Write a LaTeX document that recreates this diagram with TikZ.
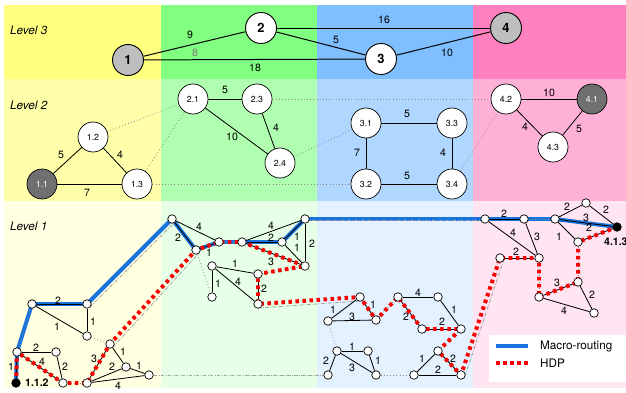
\documentclass[tikz,border=0pt]{standalone}
\usepackage{fontspec}
\setmainfont{TeX Gyre Heros}
\usetikzlibrary{backgrounds}

\definecolor{yellowL3}{RGB}{255,255,128}
\definecolor{greenL3}{RGB}{128,255,128}
\definecolor{blueL3}{RGB}{128,191,255}
\definecolor{pinkL3}{RGB}{255,128,191}
\definecolor{yellowL2}{RGB}{255,255,170}
\definecolor{greenL2}{RGB}{176,255,176}
\definecolor{blueL2}{RGB}{176,215,255}
\definecolor{pinkL2}{RGB}{255,176,215}
\definecolor{yellowL1}{RGB}{255,255,225}
\definecolor{greenL1}{RGB}{230,255,230}
\definecolor{blueL1}{RGB}{228,241,255}
\definecolor{pinkL1}{RGB}{255,228,241}
\definecolor{hubgray}{RGB}{190,190,190}
\definecolor{darkhub}{RGB}{112,112,112}
\definecolor{macroblue}{RGB}{25,115,220}
\definecolor{hdpred}{RGB}{250,0,0}
\definecolor{linkgray}{RGB}{140,140,140}

\begin{document}
\begin{tikzpicture}[x=0.03cm,y=-0.03cm,
    big/.style={circle,draw,fill=white,line width=0.8pt,minimum size=0.93cm,inner sep=0pt,font=\fontsize{11}{12}\selectfont\bfseries},
    mid/.style={circle,draw,fill=white,line width=0.6pt,minimum size=0.9cm,inner sep=0pt,font=\fontsize{7.5}{9}\selectfont},
    dot/.style={circle,draw,fill=white,line width=0.6pt,minimum size=0.255cm,inner sep=0pt},
    wt/.style={font=\fontsize{9}{10}\selectfont,inner sep=0pt},
    lvl/.style={anchor=west,font=\fontsize{10}{12}\selectfont\itshape},
    wire/.style={line width=0.7pt},
    ghost/.style={dotted,linkgray,line width=0.7pt},
    bridge/.style={linkgray!80,line width=0.7pt,dash pattern=on 3pt off 1.2pt on 0.6pt off 1.2pt},
    macro/.style={macroblue,line width=3.4pt,line join=round},
    hdp/.style={hdpred,line width=3.4pt,dash pattern=on 3pt off 3pt},
  ]
\useasboundingbox (0,0) rectangle (626,392);

% level 3
\node[lvl] (lv3) at (6,30) {Level 3};
\node[big,fill=hubgray] (n1) at (128,60) {1};
\node[big] (n2) at (261,28) {2};
\node[big] (n3) at (381,59) {3};
\node[big,fill=hubgray] (n4) at (506,28) {4};

% level 2
\node[lvl] (lv2) at (6,105) {Level 2};
\node[mid,fill=darkhub,text=white] (n11) at (42,184) {1.1};
\node[mid] (n12) at (93,137) {1.2};
\node[mid] (n13) at (137,184) {1.3};
\node[mid] (n21) at (193,99) {2.1};
\node[mid] (n23) at (257,99) {2.3};
\node[mid] (n24) at (280,163) {2.4};
\node[mid] (n31) at (366,123) {3.1};
\node[mid] (n33) at (452,123) {3.3};
\node[mid] (n32) at (366,184) {3.2};
\node[mid] (n34) at (452,184) {3.4};
\node[mid] (n42) at (506,99) {4.2};
\node[mid,fill=darkhub,text=white] (n41) at (592,99) {4.1};
\node[mid] (n43) at (553,147) {4.3};

% level 1
\node[lvl] (lv1) at (6,226) {Level 1};
\node[dot] (a1) at (32,304) {};
\node[dot] (a2) at (87,304) {};
\node[dot] (a3) at (87,336) {};
\node[dot] (a4) at (17,352) {};
\node[dot] (a5) at (56,352) {};
\node[dot,fill=black] (a6) at (16,383) {};
\node[dot] (a7) at (63,383) {};
\node[dot] (a8) at (87,383) {};
\node[dot] (a9) at (110,344) {};
\node[dot] (a10) at (126,367) {};
\node[dot] (a11) at (149,375) {};

\node[dot] (b1) at (172,219) {};
\node[dot] (b2) at (196,250) {};
\node[dot] (b3) at (219,242) {};
\node[dot] (b4) at (242,242) {};
\node[dot] (b5) at (282,242) {};
\node[dot] (b6) at (305,219) {};
\node[dot] (b7) at (305,266) {};
\node[dot] (b8) at (212,266) {};
\node[dot] (b9) at (212,297) {};
\node[dot] (b10) at (258,274) {};
\node[dot] (b11) at (258,304) {};

\node[dot] (c1) at (360,297) {};
\node[dot] (c2) at (328,321) {};
\node[dot] (c3) at (376,320) {};
\node[dot] (c4) at (398,297) {};
\node[dot] (c5) at (438,297) {};
\node[dot] (c6) at (422,329) {};
\node[dot] (c7) at (461,329) {};
\node[dot] (c8) at (337,351) {};
\node[dot] (c9) at (368,351) {};
\node[dot] (c10) at (328,375) {};
\node[dot] (c11) at (376,375) {};
\node[dot] (c12) at (438,351) {};
\node[dot] (c13) at (414,375) {};
\node[dot] (c14) at (461,375) {};

\node[dot] (d1) at (485,219) {};
\node[dot] (d2) at (524,219) {};
\node[dot] (d3) at (555,219) {};
\node[dot] (d4) at (586,203) {};
\node[dot,fill=black] (d5) at (617,227) {};
\node[dot] (d6) at (578,242) {};
\node[dot] (d7) at (500,258) {};
\node[dot] (d8) at (539,258) {};
\node[dot] (d9) at (578,282) {};
\node[dot] (d10) at (539,297) {};
\node[dot] (d11) at (594,313) {};

\node[anchor=west,font=\fontsize{9}{10}\selectfont\bfseries] (src) at (21,383) {1.1.2};
\node[anchor=west,font=\fontsize{9}{10}\selectfont\bfseries] (dst) at (600,242) {4.1.3};

\begin{scope}[on background layer]
    % bands
    \fill[yellowL3] (4,5) rectangle (161,79);
    \fill[greenL3] (161,5) rectangle (317,79);
    \fill[blueL3] (317,5) rectangle (473,79);
    \fill[pinkL3] (473,5) rectangle (626,79);
    \fill[yellowL2] (4,79) rectangle (161,201);
    \fill[greenL2] (161,79) rectangle (317,201);
    \fill[blueL2] (317,79) rectangle (473,201);
    \fill[pinkL2] (473,79) rectangle (626,201);
    \fill[yellowL1] (4,201) rectangle (161,388);
    \fill[greenL1] (161,201) rectangle (317,388);
    \fill[blueL1] (317,201) rectangle (473,388);
    \fill[pinkL1] (473,201) rectangle (626,388);

    \draw[line width=0.85pt] (n1) -- (n2) node[wt] at (190,35) {9};
    \draw[line width=0.85pt] (n1) -- (n3) node[wt] at (255,68) {18};
    \node[wt,text=gray] (w8) at (195,53) {8};
    \draw[line width=0.85pt] (n2) -- (n3) node[wt] at (336,40) {5};
    \draw[line width=0.85pt] (n2) -- (n4) node[wt] at (384,20) {16};
    \draw[line width=0.85pt] (n3) -- (n4) node[wt] at (447,53) {10};

    \draw[wire] (n11) -- (n12) node[wt] at (61,155) {5};
    \draw[wire] (n12) -- (n13) node[wt] at (120,155) {4};
    \draw[wire] (n11) -- (n13) node[wt] at (87,193) {7};
    \draw[wire] (n21) -- (n23) node[wt] at (225,90) {5};
    \draw[wire] (n23) -- (n24) node[wt] at (276,128) {4};
    \draw[wire] (n21) -- (n24) node[wt] at (232,137) {10};
    \draw[wire] (n31) -- (n33) node[wt] at (407,114) {5};
    \draw[wire] (n31) -- (n32) node[wt] at (357,153) {7};
    \draw[wire] (n33) -- (n34) node[wt] at (443,153) {4};
    \draw[wire] (n32) -- (n34) node[wt] at (407,176) {5};
    \draw[wire] (n42) -- (n41) node[wt] at (549,93) {10};
    \draw[wire] (n42) -- (n43) node[wt] at (525,127) {4};
    \draw[wire] (n41) -- (n43) node[wt] at (579,129) {5};
    \draw[ghost] (n12) -- (n21);
    \draw[ghost] (n13) -- (n21);
    \draw[ghost] (n13) -- (n32);
    \draw[ghost] (n23) -- (n42);
    \draw[ghost] (n24) -- (n31);
    \draw[ghost] (n34) -- (n42);

    % macro-routing
    \draw[macro] (a6.center) -- (a4.center) -- (a1.center) -- (a2.center) -- (b1.center) -- (b2.center) -- (b3.center) -- (b4.center) -- (b5.center) -- (b6.center) -- (d1.center) -- (d2.center) -- (d3.center) -- (d5.center);

    % links between clusters
    \draw[ghost] (a4) -- (a1);
    \draw[ghost] (a7) -- (a8);
    \draw[ghost] (a3) -- (a9);
    \draw[ghost] (b3) -- (b4);
    \draw[ghost] (b2) -- (b9);
    \draw[ghost] (b7) -- (b10);
    \draw[ghost] (c3) -- (c4);
    \draw[ghost] (c2) -- (c8);
    \draw[ghost] (c7) -- (c12);
    \draw[ghost] (c11) -- (c13);
    \draw[ghost] (d2) -- (d3);
    \draw[ghost] (d6) -- (d9);
    \draw[ghost] (d8) -- (d10);
    \draw[bridge] ([shift={(3,3)}]a2.center) -- ([shift={(3,3)}]b1.center);
    \draw[bridge] ([shift={(3,3)}]a9.center) -- ([shift={(3,3)}]b2.center);
    \draw[bridge] ([shift={(0,4)}]b11.center) -- ([shift={(0,4)}]c1.center);
    \draw[bridge] ([shift={(0,1.5)}]b6.center) -- ([shift={(0,1.5)}]d1.center);
    \draw[bridge] ([shift={(4,1)}]c14.center) -- ([shift={(4,1)}]d7.center);
    \draw[bridge] (a11) -- (c10);

    \draw[wire] (a1) -- (a2) node[wt] at (58,301) {2};
    \draw[wire] (a2) -- (a3) node[wt] at (93,322) {1};
    \draw[wire] (a1) -- (a3) node[wt] at (57,327) {1};
    \draw[wire] (a4) -- (a5) node[wt] at (36,348) {2};
    \draw[wire] (a5) -- (a7) node[wt] at (65,367) {2};
    \draw[wire] (a4) -- (a7) node[wt] at (42,362) {4};
    \draw[wire] (a4) -- (a6) node[wt] at (11,367) {1};
    \draw[wire] (a8) -- (a9) node[wt] at (94,359) {3};
    \draw[wire] (a9) -- (a10) node[wt] at (123,352) {1};
    \draw[wire] (a10) -- (a8) node[wt] at (112,367) {2};
    \draw[wire] (a10) -- (a11) node[wt] at (139,366) {1};
    \draw[wire] (a8) -- (a11) node[wt] at (118,386) {4};

    \draw[wire] (b1) -- (b2) node[wt] at (178,238) {2};
    \draw[wire] (b1) -- (b3) node[wt] at (199,227) {4};
    \draw[wire] (b2) -- (b3) node[wt] at (209,253) {1};
    \draw[wire] (b4) -- (b5) node[wt] at (271,238) {2};
    \draw[wire] (b4) -- (b6) node[wt] at (271,226) {4};
    \draw[wire] (b5) -- (b6) node[wt] at (297,237) {1};
    \draw[wire] (b5) -- (b7) node[wt] at (297,248) {1};
    \draw[wire] (b6) -- (b7) node[wt] at (312,244) {2};
    \draw[wire] (b4) -- (b7) node[wt] at (271,262) {3};
    \draw[wire] (b10) -- (b11) node[wt] at (264,289) {2};
    \draw[wire] (b8) -- (b10) node[wt] at (235,264) {1};
    \draw[wire] (b8) -- (b9) node[wt] at (218,284) {1};
    \draw[wire] (b8) -- (b11) node[wt] at (238,282) {4};

    \draw[wire] (c2) -- (c1) node[wt] at (333,310) {1};
    \draw[wire] (c2) -- (c3) node[wt] at (352,317) {3};
    \draw[wire] (c1) -- (c3) node[wt] at (373,305) {1};
    \draw[wire] (c4) -- (c5) node[wt] at (418,293) {4};
    \draw[wire] (c4) -- (c6) node[wt] at (406,317) {2};
    \draw[wire] (c5) -- (c7) node[wt] at (454,310) {1};
    \draw[wire] (c6) -- (c7) node[wt] at (442,322) {2};
    \draw[wire] (c8) -- (c9) node[wt] at (352,347) {1};
    \draw[wire] (c8) -- (c10) node[wt] at (326,361) {2};
    \draw[wire] (c9) -- (c11) node[wt] at (378,361) {1};
    \draw[wire] (c8) -- (c11) node[wt] at (352,368) {3};
    \draw[wire] (c12) -- (c13) node[wt] at (422,359) {1};
    \draw[wire] (c13) -- (c14) node[wt] at (438,370) {2};
    \draw[wire] (c12) -- (c14) node[wt] at (453,359) {2};

    \draw[wire] (d1) -- (d2) node[wt] at (504,214) {2};
    \draw[wire] (d1) -- (d8) node[wt] at (513,233) {4};
    \draw[wire] (d2) -- (d8) node[wt] at (537,237) {3};
    \draw[wire] (d3) -- (d4) node[wt] at (567,207) {2};
    \draw[wire] (d4) -- (d5) node[wt] at (606,210) {2};
    \draw[wire] (d3) -- (d5) node[wt] at (586,218) {3};
    \draw[wire] (d3) -- (d6) node[wt] at (559,237) {1};
    \draw[wire] (d6) -- (d5) node[wt] at (589,228) {2};
    \draw[wire] (d7) -- (d8) node[wt] at (516,252) {2};
    \draw[wire] (d10) -- (d9) node[wt] at (557,283) {3};
    \draw[wire] (d9) -- (d11) node[wt] at (592,295) {2};
    \draw[wire] (d10) -- (d11) node[wt] at (564,311) {4};

    % HDP
    \draw[hdp] (a6.center) -- (a4.center) -- (a7.center) -- (a8.center) -- (a9.center) -- (b2.center) -- (b3.center) -- (b4.center) -- (b7.center) -- (b10.center) -- (b11.center) -- (c1.center) -- (c3.center) -- (c4.center) -- (c6.center) -- (c7.center) -- (c12.center) -- (c14.center) -- (d7.center) -- (d8.center) -- (d10.center) -- (d9.center) -- (d6.center) -- (d5.center);
\end{scope}

% legend
\fill[white] (489,335) rectangle (626,382);
\coordinate (lb1) at (496,346);
\coordinate (lb2) at (528,346);
\coordinate (lr1) at (496,363);
\coordinate (lr2) at (528,363);
\draw[macro] (lb1) -- (lb2);
\draw[hdp] (lr1) -- (lr2);
\node[anchor=west,font=\fontsize{10}{12}\selectfont] (lbt) at (536,346) {Macro-routing};
\node[anchor=west,font=\fontsize{10}{12}\selectfont] (lrt) at (536,363) {HDP};

\end{tikzpicture}
\end{document}
